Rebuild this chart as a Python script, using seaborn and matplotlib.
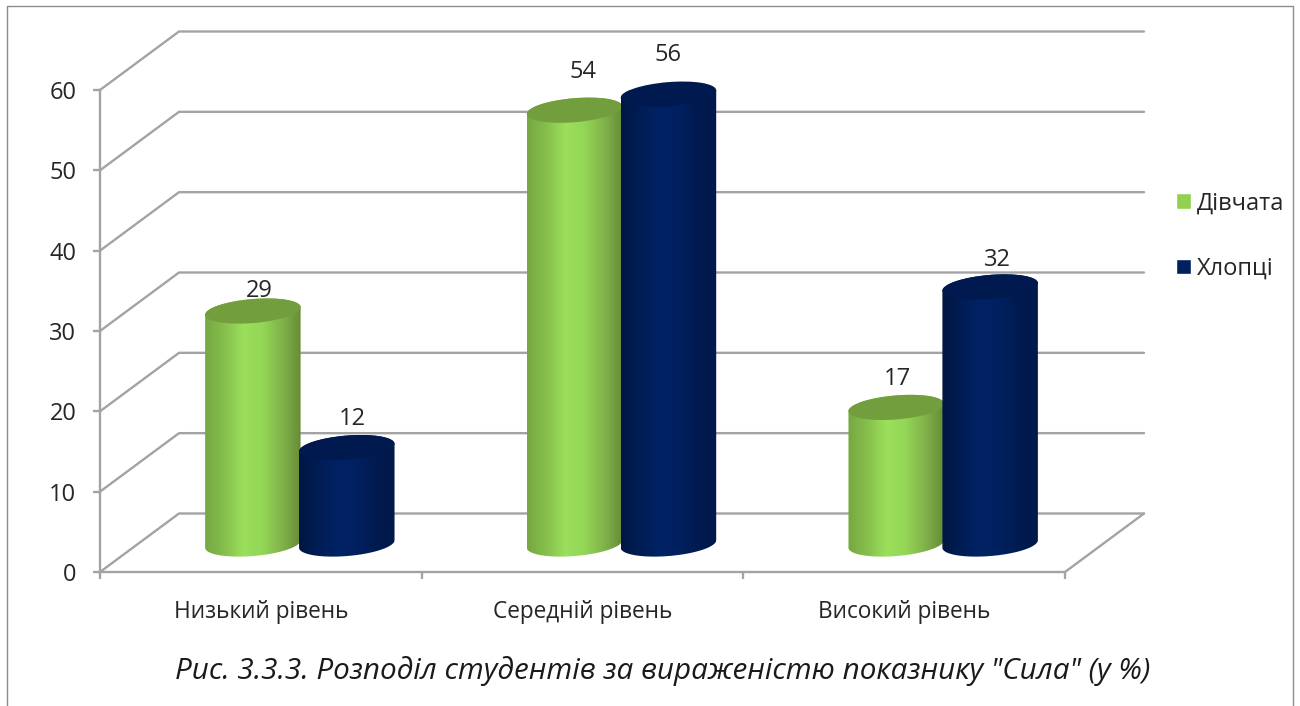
#!/usr/bin/env python
# 3D look cylinders chart, seaborn draws the bars and the rest is painted from their geometry
import matplotlib
matplotlib.use('Agg')
import matplotlib.pyplot as plt
from matplotlib.colors import LinearSegmentedColormap
from matplotlib.patches import Ellipse, Polygon
from matplotlib.transforms import IdentityTransform
from matplotlib.ticker import FixedLocator
import numpy as np
import pandas as pd
import seaborn as sns

## Data
categories = ['Низький рівень', 'Середній рівень', 'Високий рівень']
girls = [29, 54, 17]
boys = [12, 56, 32]
series_names = ['Дівчата', 'Хлопці']
y_ticks = [0, 10, 20, 30, 40, 50, 60]
caption = 'Рис. 3.3.3. Розподіл студентів за вираженістю показнику "Сила" (у %)'

## Styles
W, H = 1300, 706
FONT = 'Open Sans'
GREY = '#a3a3a3'
LW = 1.7
colors = ['#92d050', '#002060']
top_colors = ['#739e3e', '#001a4f']
gradients = [['#76a843', '#86bf4c', '#9bdf5b', '#94d656', '#82b44a', '#668c38'],
             ['#001743', '#001d55', '#002264', '#002060', '#001b50', '#00184a']]
depth = (79, 58.5)  # px from front plane to back wall
mid = (39, 28)      # bars stand half way
ell_h = 24
tilt = 4.8
# label shift from the bar top, girls then boys
label_nudge = [(6, 20), (8, 38), (1, 28), (6, 29), (0, 39), (7, 27)]

sns.set_theme(style='white')
plt.rcParams['font.family'] = [FONT, 'DejaVu Sans']

df = pd.DataFrame({'level': categories * 2,
                   'who': [series_names[0]] * 3 + [series_names[1]] * 3,
                   'value': girls + boys})

fig = plt.figure(figsize=(W / 100, H / 100), dpi=100)
ax = fig.add_axes([100 / W, 1 - 572 / H, 965 / W, 482 / H])
sns.barplot(data=df, x='level', y='value', hue='who', palette=colors, width=0.584,
            gap=0, saturation=1, errorbar=None, ax=ax)
ax.set_xlim(-0.5, 2.5)
ax.set_ylim(0, 60)
ax.set_xlabel('')
ax.set_ylabel('')
ax.set_yticks(y_ticks)

# axes cosmetics
sns.despine(ax=ax)
for side in ['left', 'bottom']:
    ax.spines[side].set_color(GREY)
    ax.spines[side].set_linewidth(LW)
ax.xaxis.set_minor_locator(FixedLocator([-0.5, 0.5, 1.5, 2.5]))
ax.tick_params(axis='x', which='major', length=0, pad=20, labelsize=16.3, labelcolor='#262626')
ax.tick_params(axis='x', which='minor', bottom=True, length=5, width=LW, color=GREY)
ax.tick_params(axis='y', left=True, length=5, width=LW, color=GREY, pad=12, labelsize=17,
               labelcolor='#262626')

# walls
to_px = ax.transData.transform
for v in y_ticks:
    front = to_px((-0.5, v))
    back_l = front + (depth[0], depth[1])
    back_r = to_px((2.5, v)) + (depth[0], depth[1])
    ax.plot([front[0], back_l[0], back_r[0]], [front[1], back_l[1], back_r[1]],
            color=GREY, lw=LW, transform=IdentityTransform(), clip_on=False, zorder=1)
corner = to_px((2.5, 0))
ax.plot([corner[0], corner[0] + depth[0]], [corner[1], corner[1] + depth[1]],
        color=GREY, lw=LW, transform=IdentityTransform(), clip_on=False, zorder=1)

handles, labels = ax.get_legend_handles_labels()


def ellipse_points(cx, cy, w, h, start, stop):
    t = np.radians(np.linspace(start, stop, 60))
    a = np.radians(tilt)
    px = w / 2 * np.cos(t)
    py = h / 2 * np.sin(t)
    return np.column_stack([cx + px * np.cos(a) - py * np.sin(a),
                            cy + px * np.sin(a) + py * np.cos(a)])


# paint the cylinders over the bar geometry
n = 0
z = 3
for s, container in enumerate(ax.containers):
    cmap = LinearSegmentedColormap.from_list('cyl%d' % s, gradients[s])
    for bar in container:
        bar.set_visible(False)
        x = bar.get_x() + bar.get_width() / 2
        val = bar.get_height()
        x0 = to_px((x, 0)) + (mid[0], mid[1])
        x1 = to_px((x, val)) + (mid[0], mid[1])
        w = (to_px((bar.get_x() + bar.get_width(), 0))[0] - to_px((bar.get_x(), 0))[0]) * 1.02
        outline = np.vstack([ellipse_points(x0[0], x0[1], w, ell_h, 180, 360),
                             ellipse_points(x1[0], x1[1], w, ell_h, 0, 180)])
        im = ax.imshow(np.linspace(0, 1, 128).reshape(1, -1), cmap=cmap, aspect='auto',
                       extent=(x0[0] - w / 2, x0[0] + w / 2, x0[1] - 30, x1[1] + 30),
                       transform=IdentityTransform(), zorder=z, clip_on=True)
        im.set_clip_path(Polygon(outline, transform=IdentityTransform()))
        ax.add_patch(Ellipse(x1, w, ell_h, angle=tilt, facecolor=top_colors[s], edgecolor='none',
                             transform=IdentityTransform(), zorder=z + 0.5, clip_on=False))
        z += 1
        dx, dy = label_nudge[n]
        ax.annotate('%d' % val, (x, val), xytext=(mid[0] + dx, mid[1] + dy),
                    textcoords='offset pixels', ha='center', va='center', fontsize=17,
                    color='#262626', zorder=20, annotation_clip=False)
        n += 1
ax.set_xlim(-0.5, 2.5)
ax.set_ylim(0, 60)

ax.legend(handles, labels, loc='center left', bbox_to_anchor=(1176 / W, 1 - 236 / H),
          bbox_transform=fig.transFigure, frameon=False, fontsize=17, handlelength=0.64,
          handleheight=0.64, handletextpad=0.25, labelspacing=1.75, labelcolor='#262626',
          borderpad=0, borderaxespad=0)

fig.text(663 / W, 1 - 671 / H, caption, ha='center', va='center', style='italic',
         fontsize=21.3, color='#1a1a1a')

# picture border, open at the bottom
border = plt.Line2D([7 / W, 7 / W, 1293 / W, 1293 / W], [0, 1 - 6 / H, 1 - 6 / H, 0],
                    transform=fig.transFigure, color='#8c8c8c', lw=1.0)
fig.add_artist(border)

fig.savefig('out.png', dpi=100)
